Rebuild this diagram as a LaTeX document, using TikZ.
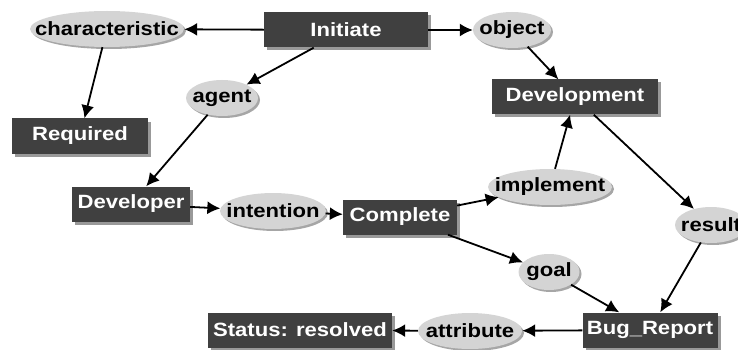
\documentclass[tikz,border=0pt]{standalone}
\usepackage{fontspec}
\setmainfont{Liberation Sans}[FakeStretch=1.15]
\usetikzlibrary{shapes.geometric, arrows.meta, shadows}
\definecolor{boxgray}{HTML}{404040}
\definecolor{relgray}{HTML}{D4D4D4}
\newcommand{\lbl}[1]{\makebox[0pt]{#1}}

\begin{document}
\begin{tikzpicture}[x=1pt, y=-1pt, font=\fontsize{19.2}{21}\selectfont\bfseries]
        \tikzstyle{box} = [fill=boxgray, text=white, minimum height=35pt, inner sep=0pt, drop shadow={shadow xshift=3pt, shadow yshift=-3pt, fill=black!40, opacity=1}]
        \tikzstyle{rel} = [ellipse, fill=relgray, text=black, minimum height=36pt, inner sep=0pt, drop shadow={shadow xshift=2pt, shadow yshift=-2pt, fill=black!35, opacity=1}]
        \tikzstyle{link} = [-{Latex[length=13pt, width=13pt]}, line width=1.8pt]
        \clip (0,0) rectangle (738,350);
        \node[box, minimum width=164pt] (initiate) at (346,30) {Initiate};
        \node[box, minimum width=136pt] (required) at (80,136) {Required};
        \node[box, minimum width=166pt] (development) at (575,97) {Development};
        \node[box, minimum width=118pt] (developer) at (131,204) {Developer};
        \node[box, minimum width=114pt] (complete) at (400,217) {Complete};
        \node[box, minimum width=135pt] (bugreport) at (650,330) {Bug\_Report};
        \node[box, minimum width=184pt] (status) at (300,330) {Status: resolved};
        \node[rel, minimum width=154pt] (characteristic) at (107,29) {\lbl{characteristic}};
        \node[rel, minimum width=78pt] (object) at (512,30) {\lbl{object}};
        \node[rel, minimum width=72pt] (agent) at (222,98) {\lbl{agent}};
        \node[rel, minimum width=106pt] (intention) at (273,211) {\lbl{intention}};
        \node[rel, minimum width=124pt] (implement) at (550,187) {\lbl{implement}};
        \node[rel, minimum width=72pt] (result) at (711,225) {\lbl{result}};
        \node[rel, minimum width=61pt] (goal) at (549,272) {\lbl{goal}};
        \node[rel, minimum width=104pt] (attribute) at (470,331) {\lbl{attribute}};
        \path[link]
        (initiate) edge (characteristic)
        (initiate) edge (object)
        (initiate) edge (agent)
        (characteristic) edge (required)
        (object) edge (development)
        (agent) edge (developer)
        (developer) edge (intention)
        (intention) edge (complete)
        (complete) edge (implement)
        (implement) edge (development)
        (development) edge (result)
        (result) edge (bugreport)
        (complete) edge (goal)
        (goal) edge (bugreport)
        (bugreport) edge (attribute)
        (attribute) edge (status);
    \end{tikzpicture}
\end{document}
